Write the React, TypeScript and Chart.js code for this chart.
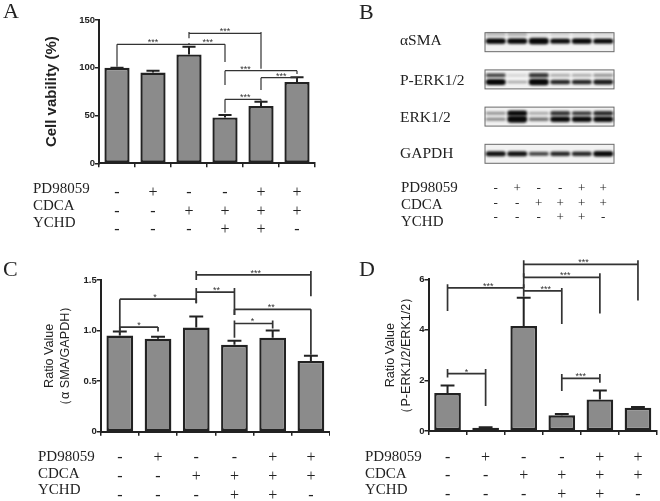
import React, { useEffect, useRef } from "react";
import { Chart, registerables } from "chart.js";

Chart.register(...registerables);

const SANS = "'Liberation Sans', Arial, sans-serif";
const SERIF = "'Liberation Serif', 'Times New Roman', serif";
const INK = "#222222";

const rowNames = ["PD98059", "CDCA", "YCHD"];
const pd98059 = ["-", "+", "-", "-", "+", "+"];
const cdca = ["-", "-", "+", "+", "+", "+"];
const ychd = ["-", "-", "-", "+", "+", "-"];
const laneLabels = pd98059.map((_, i) => [pd98059[i], cdca[i], ychd[i]]);

const valuesA = [100, 95, 114, 48, 60, 85];
const errorTopsA = [100, 97, 122, 50.5, 64.5, 90];
const valuesC = [0.95, 0.92, 1.03, 0.86, 0.93, 0.7];
const errorTopsC = [0.99, 0.94, 1.14, 0.9, 1.0, 0.75];
const valuesD = [1.5, 0.13, 4.15, 0.62, 1.25, 0.92];
const errorTopsD = [1.8, 0.15, 5.27, 0.67, 1.6, 0.95];

// from, to, line value, left end, right end, top of end ticks, stars, star position
type Bracket = [number, number, number, number, number, number, string, number];
const bracketsA: Bracket[] = [
  [0, 2, 124.5, 101, 124.5, 124.5, "***", 1.0],
  [2, 3, 124.5, 126, 106, 124.5, "***", 2.52],
  [2, 4, 136, 131, 99, 137.5, "***", 3.0],
  [3, 5, 97, 82, 93.5, 97, "***", 3.57],
  [4, 5, 89.6, 76.7, 87, 89.6, "***", 4.56],
  [3, 4, 67, 53, 64.5, 67, "***", 3.56],
];
const bracketsC: Bracket[] = [
  [0, 2, 1.31, 0.99, 1.27, 1.31, "*", 0.92],
  [0, 1, 1.035, 0.99, 0.99, 1.035, "*", 0.5],
  [2, 3, 1.38, 1.27, 1.155, 1.42, "**", 2.53],
  [2, 5, 1.55, 1.5, 1.34, 1.59, "***", 3.56],
  [3, 5, 1.21, 1.155, 0.76, 1.21, "**", 3.96],
  [3, 4, 1.07, 0.93, 1.02, 1.1, "*", 3.47],
];
const bracketsD: Bracket[] = [
  [0, 2, 5.66, 4.75, 5.66, 5.8, "***", 1.07],
  [2, 3, 5.54, 5.31, 4.23, 5.66, "***", 2.58],
  [2, 4, 6.08, 5.66, 4.65, 6.24, "***", 3.09],
  [2, 5, 6.59, 6.08, 5.16, 6.75, "***", 3.57],
  [0, 1, 2.27, 2.12, 0.99, 2.45, "*", 0.5],
  [3, 4, 2.08, 1.58, 1.91, 2.25, "***", 3.5],
];

const blotNames = ["\u03b1SMA", "P-ERK1/2", "ERK1/2", "GAPDH"];
const smaFaint = [0.2, 0.25, 0.03, 0.08, 0.04, 0.04];
const smaMain = [1, 0.95, 1.2, 0.9, 0.95, 0.9];
const perkUpper = [0.6, 0.04, 0.7, 0.22, 0.22, 0.3];
const perkLower = [1.1, 0.2, 1.2, 0.75, 0.75, 0.8];
const erkUpper = [0.3, 1.0, 0.25, 0.7, 0.65, 0.75];
const erkLower = [0.35, 1.3, 0.45, 1.0, 0.95, 1.0];
const gapdhMain = [0.85, 0.85, 0.6, 0.75, 0.75, 0.95];

type Label = { text: string; x: number; y: number; font: string };

function labelsPlugin(labels: Label[]) {
  return {
    id: "panelLabels",
    afterDraw(chart: any) {
      const { ctx } = chart;
      ctx.save();
      ctx.fillStyle = INK;
      ctx.textAlign = "left";
      ctx.textBaseline = "alphabetic";
      labels.forEach((l) => {
        ctx.font = l.font;
        ctx.fillText(l.text, l.x, l.y);
      });
      ctx.restore();
    },
  };
}

function errorsPlugin(tops: number[]) {
  return {
    id: "errorBars",
    afterDatasetsDraw(chart: any) {
      const { ctx, scales } = chart;
      const meta = chart.getDatasetMeta(0);
      ctx.save();
      ctx.strokeStyle = INK;
      ctx.lineWidth = 2;
      tops.forEach((t, i) => {
        const x = scales.x.getPixelForValue(i);
        const y0 = meta.data[i].y;
        const y1 = scales.y.getPixelForValue(t);
        const half = meta.data[i].width * 0.26;
        ctx.beginPath();
        ctx.moveTo(x, y0);
        ctx.lineTo(x, y1);
        ctx.moveTo(x - half, y1);
        ctx.lineTo(x + half, y1);
        ctx.stroke();
      });
      ctx.restore();
    },
  };
}

function bracketsPlugin(brackets: Bracket[], lineWidth: number) {
  return {
    id: "brackets",
    afterDraw(chart: any) {
      const { ctx, scales } = chart;
      const px = (i: number) => {
        const a = scales.x.getPixelForValue(0);
        const b = scales.x.getPixelForValue(1);
        return a + (b - a) * i;
      };
      const py = (v: number) => scales.y.getPixelForValue(v);
      ctx.save();
      ctx.strokeStyle = "#333333";
      ctx.fillStyle = "#333333";
      ctx.lineWidth = lineWidth;
      ctx.font = `9px ${SANS}`;
      ctx.textAlign = "center";
      ctx.textBaseline = "alphabetic";
      brackets.forEach(([from, to, line, left, right, top, stars, at]) => {
        ctx.beginPath();
        ctx.moveTo(px(from), py(left));
        ctx.lineTo(px(from), py(top));
        ctx.moveTo(px(from), py(line));
        ctx.lineTo(px(to), py(line));
        ctx.moveTo(px(to), py(top));
        ctx.lineTo(px(to), py(right));
        ctx.stroke();
        ctx.fillText(stars, px(at), py(line) + 1);
      });
      ctx.restore();
    },
  };
}

type BarCfg = {
  values: number[];
  tops: number[];
  brackets: Bracket[];
  bracketWidth: number;
  max: number;
  step: number;
  title: string | string[];
  titleFont: any;
  box: { left: number; axisW: number; right: number; top: number; bottom: number; h: number };
  tickPad: number;
  labels: Label[];
};

function barConfig(cfg: BarCfg): any {
  const { box } = cfg;
  return {
    type: "bar",
    data: {
      labels: laneLabels,
      datasets: [
        {
          data: cfg.values,
          backgroundColor: "#8b8b8b",
          borderColor: INK,
          borderWidth: 2.4,
          borderSkipped: false,
          categoryPercentage: 1,
          barPercentage: 0.7,
        },
      ],
    },
    options: {
      responsive: false,
      animation: false,
      devicePixelRatio: 1,
      layout: { padding: { left: box.left, right: box.right, top: box.top, bottom: 0 } },
      plugins: { legend: { display: false }, tooltip: { enabled: false } },
      scales: {
        x: {
          afterFit: (s: any) => {
            s.height = box.h - box.bottom;
          },
          grid: { drawOnChartArea: false, drawTicks: true, tickLength: 4, color: INK, lineWidth: 1.5 },
          border: { color: INK, width: 2 },
          ticks: {
            color: INK,
            padding: cfg.tickPad,
            autoSkip: false,
            maxRotation: 0,
            font: { family: SERIF, size: 16, lineHeight: 1.17 },
          },
        },
        y: {
          min: 0,
          max: cfg.max,
          afterFit: (s: any) => {
            s.width = box.axisW;
          },
          grid: { drawOnChartArea: false, drawTicks: true, tickLength: 4, color: INK, lineWidth: 1.5 },
          border: { color: INK, width: 2 },
          ticks: {
            stepSize: cfg.step,
            color: INK,
            padding: 0,
            font: { family: SANS, size: 9.5, weight: "bold" },
          },
          title: {
            display: true,
            text: cfg.title,
            color: INK,
            padding: 0,
            font: cfg.titleFont,
          },
        },
      },
    },
    plugins: [errorsPlugin(cfg.tops), bracketsPlugin(cfg.brackets, cfg.bracketWidth), labelsPlugin(cfg.labels)],
  };
}

function bandImage(level: number): HTMLCanvasElement {
  const w = 26;
  const h = 14;
  const c = document.createElement("canvas");
  c.width = w;
  c.height = h;
  const ctx = c.getContext("2d")!;
  ctx.filter = "blur(1px)";
  ctx.fillStyle = `rgba(8,8,8,${Math.min(1, 0.12 + level)})`;
  const thick = 1.6 + level * 4;
  ctx.beginPath();
  ctx.roundRect(w / 2 - 10, h / 2 - thick / 2, 20, thick, thick / 2);
  ctx.fill();
  return c;
}

function bandSet(row: number, offset: number, levels: number[]) {
  return {
    data: levels.map((_, i) => ({ x: i, y: row + offset })),
    pointStyle: levels.map(bandImage),
    pointRadius: 4,
    showLine: false,
    clip: false,
  };
}

function blotConfig(labels: Label[]): any {
  const frames = {
    id: "blotFrames",
    beforeDatasetsDraw(chart: any) {
      const { ctx, scales, chartArea } = chart;
      ctx.save();
      blotNames.forEach((_, row) => {
        const top = scales.y.getPixelForValue(row - 0.255);
        const bottom = scales.y.getPixelForValue(row + 0.255);
        ctx.fillStyle = "#f2f2f2";
        ctx.strokeStyle = "#6a6a6a";
        ctx.lineWidth = 1;
        ctx.fillRect(chartArea.left, top, chartArea.width, bottom - top);
        ctx.strokeRect(chartArea.left, top, chartArea.width, bottom - top);
      });
      ctx.restore();
    },
  };
  return {
    type: "scatter",
    data: {
      datasets: [
        bandSet(0, -0.21, smaFaint),
        bandSet(0, -0.03, smaMain),
        bandSet(1, -0.11, perkUpper),
        bandSet(1, 0.07, perkLower),
        bandSet(2, -0.09, erkUpper),
        bandSet(2, 0.07, erkLower),
        bandSet(3, 0, gapdhMain),
      ],
    },
    options: {
      responsive: false,
      animation: false,
      devicePixelRatio: 1,
      layout: { padding: { left: 155, right: 46, top: 23.6, bottom: 0 } },
      plugins: { legend: { display: false }, tooltip: { enabled: false } },
      scales: {
        x: {
          type: "linear",
          min: -0.5,
          max: 5.5,
          afterBuildTicks: (s: any) => {
            s.ticks = pd98059.map((_, i) => ({ value: i }));
          },
          afterFit: (s: any) => {
            s.height = 77.6;
          },
          grid: { display: false },
          border: { display: false },
          ticks: {
            color: INK,
            padding: 1,
            autoSkip: false,
            maxRotation: 0,
            callback: (v: number) => laneLabels[v],
            font: { family: SERIF, size: 13, lineHeight: 1.12 },
          },
        },
        y: { display: false, reverse: true, min: -0.5, max: 3.5 },
      },
    },
    plugins: [frames, labelsPlugin(labels)],
  };
}

const rowFont = `15px ${SERIF}`;
const nameFont = `15.5px ${SERIF}`;
const letterFont = `22px ${SERIF}`;
const rowLabels = (x: number, ys: number[]): Label[] =>
  rowNames.map((text, i) => ({ text, x, y: ys[i], font: rowFont }));

export default function App() {
  const a = useRef<HTMLCanvasElement>(null);
  const b = useRef<HTMLCanvasElement>(null);
  const c = useRef<HTMLCanvasElement>(null);
  const d = useRef<HTMLCanvasElement>(null);

  useEffect(() => {
    document.body.style.margin = "0";
    const titleBold = { family: SANS, size: 15, weight: "bold" };
    const titleC = { family: SANS, size: 12.6, weight: "normal", lineHeight: 1.25 };
    const charts = [
      new Chart(
        a.current!,
        barConfig({
          values: valuesA,
          tops: errorTopsA,
          brackets: bracketsA,
          bracketWidth: 1.2,
          max: 150,
          step: 50,
          title: "Cell vability (%)",
          titleFont: titleBold,
          box: { left: 43, axisW: 56, right: 15, top: 20, bottom: 163.3, h: 250 },
          tickPad: 16,
          labels: [{ text: "A", x: 3, y: 18, font: letterFont }, ...rowLabels(33, [193, 210, 227])],
        })
      ),
      new Chart(
        b.current!,
        blotConfig([
          { text: "B", x: 29, y: 19, font: letterFont },
          ...blotNames.map((text, i) => ({ text, x: 70, y: [45, 85, 122, 158][i], font: nameFont })),
          ...rowLabels(71, [192, 209, 226]),
        ])
      ),
      new Chart(
        c.current!,
        barConfig({
          values: valuesC,
          tops: errorTopsC,
          brackets: bracketsC,
          bracketWidth: 1.7,
          max: 1.5,
          step: 0.5,
          title: ["Ratio Value", "\uff08\u03b1 SMA/GAPDH\uff09"],
          titleFont: titleC,
          box: { left: 42, axisW: 58.7, right: 0, top: 30, bottom: 181.7, h: 250 },
          tickPad: 13,
          labels: [{ text: "C", x: 3, y: 26, font: letterFont }, ...rowLabels(38, [211, 228, 244])],
        })
      ),
      new Chart(
        d.current!,
        barConfig({
          values: valuesD,
          tops: errorTopsD,
          brackets: bracketsD,
          bracketWidth: 1.7,
          max: 6,
          step: 2,
          title: ["Ratio Value", "\uff08P-ERK1/2/ERK1/2\uff09"],
          titleFont: titleC,
          box: { left: 53, axisW: 45.5, right: 3, top: 29.3, bottom: 181, h: 251 },
          tickPad: 13,
          labels: [{ text: "D", x: 29, y: 26, font: letterFont }, ...rowLabels(35, [211, 228, 244])],
        })
      ),
    ];
    return () => charts.forEach((ch) => ch.destroy());
  }, []);

  const canvasStyle = (left: number, top: number): React.CSSProperties => ({
    position: "absolute",
    left,
    top,
    filter: "blur(0.35px)",
  });

  return (
    <div style={{ position: "relative", width: 660, height: 501, overflow: "hidden", background: "#fff" }}>
      <canvas ref={a} width={330} height={250} style={canvasStyle(0, 0)} />
      <canvas ref={b} width={330} height={250} style={canvasStyle(330, 0)} />
      <canvas ref={c} width={330} height={250} style={canvasStyle(0, 250)} />
      <canvas ref={d} width={330} height={251} style={canvasStyle(330, 250)} />
    </div>
  );
}
